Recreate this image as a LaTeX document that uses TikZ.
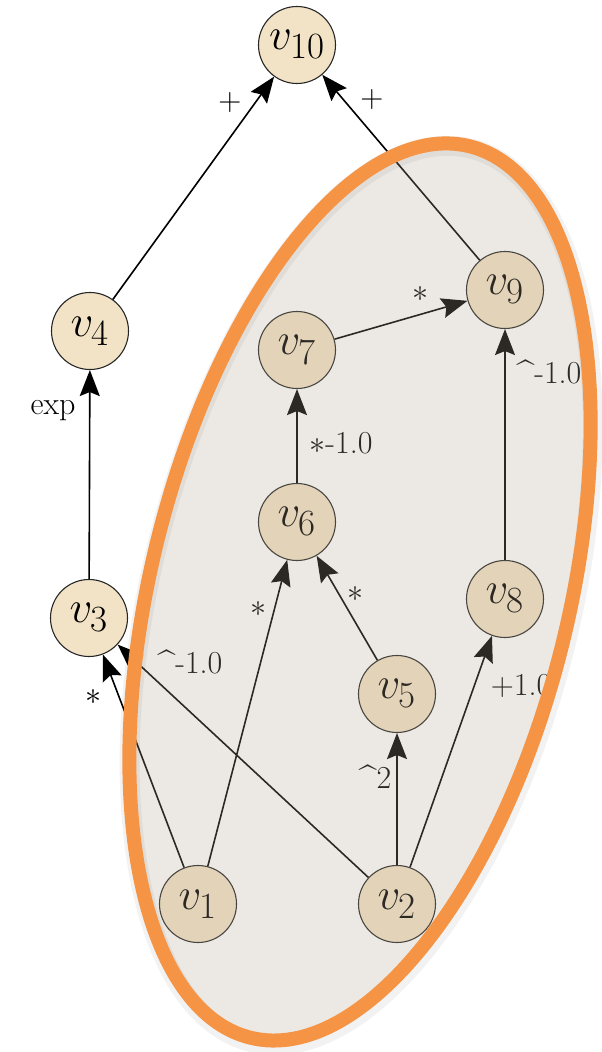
\RequirePackage{fix-cm}
\documentclass[tikz,border=0pt]{standalone}
\usetikzlibrary{arrows.meta}
\definecolor{nodefill}{RGB}{243,227,198}
\definecolor{ovgray}{RGB}{179,167,147}
\definecolor{ringorange}{RGB}{245,148,68}
\tikzset{
  vnode/.style={circle, draw=black!85, line width=1.1pt, fill=nodefill, minimum size=77pt, inner sep=0pt,
    font=\fontsize{45}{50}\selectfont},
  edgeln/.style={line width=1.6pt, black, -{Stealth[length=26pt,width=20pt,inset=4pt]}},
  lbl/.style={inner sep=0pt, font=\fontsize{32}{38}\selectfont}
}
\newcommand{\vsub}[1]{$v_{\mbox{\fontsize{37}{40}\selectfont #1}}$}
\begin{document}
\begin{tikzpicture}[x=1pt,y=-1pt]
\useasboundingbox (0,0) rectangle (602,1052);
% nodes
\node[vnode] (v10) at (297,45) {\vsub{10}};
\node[vnode] (v4) at (90,331) {\vsub{4}};
\node[vnode] (v3) at (89,618) {\vsub{3}};
\node[vnode] (v7) at (297,350) {\vsub{7}};
\node[vnode] (v9) at (505,290) {\vsub{9}};
\node[vnode] (v6) at (297,522) {\vsub{6}};
\node[vnode] (v8) at (505,599) {\vsub{8}};
\node[vnode] (v5) at (397,694) {\vsub{5}};
\node[vnode] (v1) at (198,904) {\vsub{1}};
\node[vnode] (v2) at (397,904) {\vsub{2}};
% edges
\draw[edgeln] (v4) -- (v10);
\draw[edgeln] (v9) -- (v10);
\draw[edgeln] (v3) -- (v4);
\draw[edgeln] (v1) -- (v3);
\draw[edgeln] (v2) -- (v3);
\draw[edgeln] (v1) -- (v6);
\draw[edgeln] (v5) -- (v6);
\draw[edgeln] (v6) -- (v7);
\draw[edgeln] (v7) -- (v9);
\draw[edgeln] (v2) -- (v5);
\draw[edgeln] (v2) -- (v8);
\draw[edgeln] (v8) -- (v9);
% labels
\node[lbl] (l1) at (230,103) {+};
\node[lbl] (l2) at (372,100) {+};
\node[lbl] (l3) at (53,411) {exp};
\node[lbl] (l4) at (93,697) {$\ast$};
\node[lbl] (l5) at (190,662) {\textasciicircum-1.0};
\node[lbl] (l6) at (258,609) {$\ast$};
\node[lbl] (l7) at (355,594) {$\ast$};
\node[lbl] (l8) at (341,443) {$\ast$-1.0};
\node[lbl] (l9) at (420,294) {$\ast$};
\node[lbl] (l10) at (549,372) {\textasciicircum-1.0};
\node[lbl] (l11) at (521,686) {+1.0};
\node[lbl] (l12) at (375,777) {\textasciicircum2};
% overlay ellipse
\coordinate (ec) at (360,592);
\fill[ovgray, fill opacity=0.25, rotate around={-13.8:(ec)}] (ec) ellipse [x radius=209pt, y radius=459pt];
\draw[black, opacity=0.05, line width=20pt, rotate around={-13.8:(ec)}] ([shift={(2,3)}]ec) ellipse [x radius=210pt, y radius=460pt];
\draw[ringorange, line width=14pt, rotate around={-13.8:(ec)}] (ec) ellipse [x radius=209pt, y radius=459pt];
\end{tikzpicture}
\end{document}
